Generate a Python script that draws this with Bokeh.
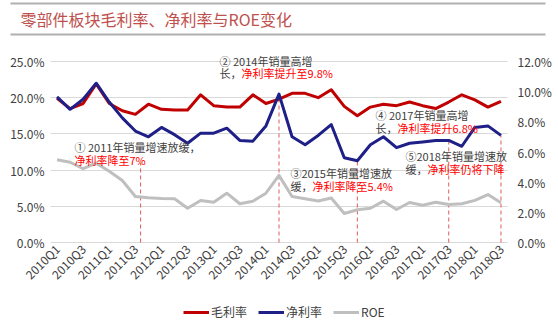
import math
from bokeh.plotting import figure
from bokeh.models import (Range1d, LinearAxis, FixedTicker, PrintfTickFormatter,
                          Legend, LegendItem, Label, ColumnDataSource)
from bokeh.embed import file_html
from bokeh.resources import INLINE

# ---------------- data ----------------
quarters = ["2010Q1", "2010Q2", "2010Q3", "2010Q4",
            "2011Q1", "2011Q2", "2011Q3", "2011Q4",
            "2012Q1", "2012Q2", "2012Q3", "2012Q4",
            "2013Q1", "2013Q2", "2013Q3", "2013Q4",
            "2014Q1", "2014Q2", "2014Q3", "2014Q4",
            "2015Q1", "2015Q2", "2015Q3", "2015Q4",
            "2016Q1", "2016Q2", "2016Q3", "2016Q4",
            "2017Q1", "2017Q2", "2017Q3", "2017Q4",
            "2018Q1", "2018Q2", "2018Q3"]

# 毛利率 (left axis, %)
gross_margin = [19.9, 18.5, 19.2, 21.9, 19.2, 18.2, 17.7, 19.1, 18.4, 18.3,
                18.3, 20.4, 18.9, 18.7, 18.7, 20.4, 19.2, 19.8, 20.6, 20.6,
                20.0, 21.1, 18.8, 17.5, 18.7, 19.1, 18.9, 19.4, 18.9, 18.5,
                19.4, 20.4, 19.7, 18.7, 19.5]

# 净利率 (right axis, %)
net_margin = [9.65, 8.83, 9.50, 10.56, 9.31, 8.26, 7.39, 7.01, 7.63, 7.15,
              6.58, 7.25, 7.25, 7.58, 6.77, 6.72, 7.73, 9.84, 7.01, 6.48,
              7.10, 7.82, 5.62, 5.42, 6.48, 7.01, 6.29, 6.58, 6.67, 6.77,
              6.77, 6.38, 7.63, 7.73, 7.10]

# ROE (right axis, %)
roe = [5.48, 5.32, 4.89, 5.26, 4.73, 4.11, 3.05, 2.96, 2.92, 2.90,
       2.27, 2.79, 2.67, 3.27, 2.57, 2.74, 3.27, 4.45, 3.05, 2.90,
       2.75, 2.95, 1.92, 2.17, 2.27, 2.74, 2.19, 2.65, 2.47, 2.67,
       2.52, 2.57, 2.79, 3.18, 2.63]

left_ticks = [0, 5, 10, 15, 20, 25]
right_ticks = [0, 2, 4, 6, 8, 10, 12]
tick_quarters = quarters[::2]

# event markers (dashed lines)
event_quarters = ["2011Q3", "2014Q2", "2015Q4", "2017Q3", "2018Q3"]
event_shift = [0.4, 0, 0, 0, 0]
event_top = [5.3, 9.84, 5.42, 6.77, 7.10]

title_text = "零部件板块毛利率、净利率与ROE变化"
series_names = ["毛利率", "净利率", "ROE"]

FONT = "Noto Sans CJK SC"
DARK = "#404040"
RED_TXT = "#FF0000"

# ---------------- geometry (pixels) ----------------
W, H = 558, 325
PA_L, PA_R, PA_T, PA_B = 50, 507, 61, 242      # plot-area box
n = len(quarters)
L_MAX, R_MAX = left_ticks[-1], right_ticks[-1]
kx = (PA_R - PA_L) / n
ky = (PA_B - PA_T) / L_MAX
x0, x1 = -0.5, n - 0.5
XS = x0 - PA_L / kx
YS = -(H - PA_B) / ky
YE = L_MAX + PA_T / ky
rs = R_MAX / L_MAX


def dx(px):
    return XS + px / kx


def dy(py):
    return YS + (H - py) / ky


x = list(range(n))
src = ColumnDataSource(dict(x=x, q=quarters, gm=gross_margin, nm=net_margin, roe=roe))

p = figure(width=W, height=H, output_backend="svg", toolbar_location=None,
           x_range=Range1d(XS, x1 + (W - PA_R) / kx),
           y_range=Range1d(YS, YE), min_border=0)
p.extra_y_ranges = {"right": Range1d(YS * rs, YE * rs)}
p.outline_line_color = None
p.background_fill_color = "white"
p.border_fill_color = "white"

p.xgrid.grid_line_color = None
try:
    p.ygrid.cross_bounds = (x0, x1)
    p.ygrid.grid_line_color = "#D9D9D9"
except Exception:
    p.ygrid.grid_line_color = None
    p.segment(x0=[x0] * len(left_ticks), x1=[x1] * len(left_ticks),
              y0=left_ticks, y1=left_ticks, line_color="#D9D9D9", line_width=1)


def style_axis(ax, standoff):
    ax.axis_line_color = None
    ax.major_tick_line_color = None
    ax.minor_tick_line_color = None
    ax.major_tick_out = 0
    ax.major_label_text_font = FONT
    ax.major_label_text_font_size = "12px"
    ax.major_label_text_color = DARK
    ax.major_label_standoff = standoff


# left axis (pinned to the plot-area left edge)
ya = p.yaxis[0]
ya.fixed_location = x0
ya.ticker = FixedTicker(ticks=left_ticks)
ya.formatter = PrintfTickFormatter(format="%.1f%%")
style_axis(ya, 6)

# right axis
ra = LinearAxis(y_range_name="right", ticker=FixedTicker(ticks=right_ticks),
                formatter=PrintfTickFormatter(format="%.1f%%"), fixed_location=x1)
style_axis(ra, 10)
p.add_layout(ra, "right")

# x axis (pinned at 0%)
xa = p.xaxis[0]
xa.fixed_location = 0
xa.ticker = FixedTicker(ticks=[quarters.index(q) for q in tick_quarters])
xa.major_label_overrides = {quarters.index(q): q for q in tick_quarters}
xa.major_label_orientation = math.pi / 4
style_axis(xa, 4)

# title rules (drawn as stroked segments)
p.segment(x0=[dx(10), dx(10)], x1=[dx(545), dx(545)],
          y0=[dy(3), dy(34)], y1=[dy(3), dy(34)],
          line_color="#B0B0B0", line_width=2)

# event dashed lines
ex = [quarters.index(q) + s for q, s in zip(event_quarters, event_shift)]
p.segment(x0=ex, y0=[0] * len(ex), x1=ex, y1=event_top, y_range_name="right",
          line_color="#E05A5A", line_dash="4 3", line_width=1)

# series
r_roe = p.line("x", "roe", source=src, y_range_name="right", line_color="#BFBFBF",
               line_width=3, line_join="round")
r_gm = p.line("x", "gm", source=src, line_color="#C00000", line_width=3,
              line_join="round")
r_nm = p.line("x", "nm", source=src, y_range_name="right", line_color="#1F1F88",
              line_width=3, line_join="round")

legend = Legend(items=[LegendItem(label=series_names[0], renderers=[r_gm]),
                       LegendItem(label=series_names[1], renderers=[r_nm]),
                       LegendItem(label=series_names[2], renderers=[r_roe])],
                orientation="horizontal", location=(183, 5),
                glyph_width=26, glyph_height=16, label_height=16,
                label_standoff=2, spacing=11, padding=0, margin=0,
                label_text_font=FONT, label_text_font_size="12px",
                label_text_color=DARK, border_line_color=None,
                background_fill_alpha=0)
p.add_layout(legend)

p.add_layout(Label(x=20, y=H - 18.5, x_units="screen", y_units="screen",
                   text=title_text, text_font=FONT, text_font_size="16px",
                   text_color="#C0504D", text_baseline="middle"))

# annotations: (x px, y px from top)
notes = [
    (74, 146, "① 2011年销量增速放缓，", DARK),
    (74, 159, "净利率降至7%", RED_TXT),
    (219, 60, "② 2014年销量高增", DARK),
    (219, 72, "长，", DARK),
    (241, 72, "净利率提升至9.8%", RED_TXT),
    (290, 172, "③2015年销量增速放", DARK),
    (290, 185, "缓，", DARK),
    (312, 185, "净利率降至5.4%", RED_TXT),
    (375, 114, "④ 2017年销量高增", DARK),
    (375, 127, "长，", DARK),
    (397, 127, "净利率提升6.8%", RED_TXT),
    (405, 155, "⑤2018年销量增速放", DARK),
    (405, 168, "缓，", DARK),
    (427, 168, "净利率仍将下降", RED_TXT),
]
for nx, ny, t, c in notes:
    p.add_layout(Label(x=nx, y=H - ny, x_units="screen", y_units="screen", text=t,
                       text_font=FONT, text_font_size="11px", text_color=c,
                       text_baseline="middle"))

open("out.html", "w").write(file_html(p, INLINE))
